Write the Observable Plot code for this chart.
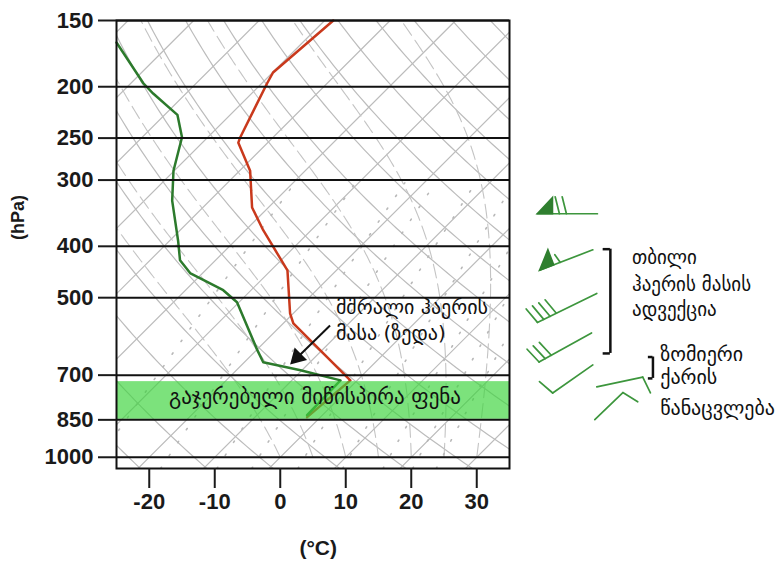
<!DOCTYPE html>
<html><head><meta charset="utf-8">
<script src="https://cdn.jsdelivr.net/npm/d3@7"></script>
<script src="https://cdn.jsdelivr.net/npm/@observablehq/plot@0.6"></script>
<style>
body{margin:0;background:#fff;}
#chart{width:782px;height:561px;}
</style></head><body><div id="chart"></div>
<script>
// ---- data ----
const pressureTicks = [150, 200, 250, 300, 400, 500, 700, 850, 1000];
const tempTicks = [-20, -10, 0, 10, 20, 30];
// temperature profile (red): pressure hPa, temperature °C (axis units)
const tempPressure = [150, 188, 197, 249, 255, 288, 338, 373, 444, 535, 559, 716, 840];
const tempValue    = [8.1, -1.1, -2.0, -6.1, -6.4, -4.6, -4.3, -2.6, 1.1, 1.5, 2.0, 10.7, 4.1];
// dew point profile (green)
const dewPressure = [165, 197, 206, 226, 249, 288, 328, 390, 425, 450, 484, 510, 628, 662, 685, 716, 833];
const dewValue    = [-25.0, -20.9, -19.4, -15.7, -15.0, -16.3, -16.5, -15.6, -15.3, -13.7, -8.7, -6.6, -3.5, -2.6, 3.1, 9.2, 4.1];
// saturated surface layer (hPa)
const bandPressure = [720, 848];
// wind barbs
const windPressure = [348, 407, 492, 584, 671, 738, 851];
const windStation  = [48.5, 47.8, 48.4, 47.6, 47.8, 48.4, 48.1];
const windKnots    = [70, 55, 40, 30, 10, 10, 10];
const windBearing  = [180, 159, 154, 151, 145, -12, -44];

// ---- background thermodynamic grid ----
const K = 35.2;
const skew = (t, p) => t + K * Math.log(1000 / p);
const pSteps = d3.range(0, 81).map(i => 1050 * Math.pow(150 / 1050, i / 80));
const isotherms = [];
for (let T = -130; T <= 40; T += 10) {
  isotherms.push({id: T, x: skew(T, 1050), p: 1050}, {id: T, x: skew(T, 150), p: 150});
}
const dryAd = [];
for (let th = 230; th <= 450; th += 10) {
  for (const p of pSteps) dryAd.push({id: th, p, x: skew(th * Math.pow(p / 1000, 0.2857) - 273.15, p)});
}
const es = tc => 6.112 * Math.exp(17.67 * tc / (tc + 243.5));
const mix = [];
for (const w of [0.4, 1, 2, 3, 5, 8, 12, 16, 20]) {
  for (const p of pSteps.filter(p => p >= 300)) {
    const e = w * p / (622 + w);
    const l = Math.log(e / 6.112);
    mix.push({id: w, p, x: skew(243.5 * l / (17.67 - l), p)});
  }
}
const moist = [];
for (const t0 of [0, 5, 10, 15, 20, 25, 30, 35]) {
  let T = t0 + 273.15, lp = Math.log(1000);
  const n = 200, dl = (Math.log(150) - Math.log(1000)) / n;
  for (let i = 0; i <= n; i++) {
    const p = Math.exp(lp);
    moist.push({id: t0, p, x: skew(T - 273.15, p)});
    const e = es(T - 273.15), rs = 0.622 * e / (p - e);
    const dT = (287 * T + 2.5e6 * rs) / (1005 + 2.5e6 * 2.5e6 * rs * 0.622 / (287 * T * T));
    T += dT * dl; lp += dl;
  }
}

const tempData = tempPressure.map((p, i) => ({p, t: tempValue[i]}));
const dewData = dewPressure.map((p, i) => ({p, t: dewValue[i]}));
const geo = "DejaVu Sans, Noto Sans, sans-serif";

const chart = Plot.plot({
  width: 782, height: 561,
  marginLeft: 116, marginRight: 273, marginTop: 20, marginBottom: 93,
  style: {fontFamily: "Liberation Sans, Arial, sans-serif", background: "#fff", color: "#1a1a1a", overflow: "visible"},
  x: {domain: [-25, 35]},
  y: {type: "log", domain: [150, 1050], reverse: true},
  marks: [
    Plot.line(isotherms, {x: "x", y: "p", z: "id", stroke: "#bcbcbc", strokeWidth: 1.2, clip: true}),
    Plot.line(dryAd, {x: "x", y: "p", z: "id", stroke: "#bcbcbc", strokeWidth: 1.2, clip: true}),
    Plot.line(moist, {x: "x", y: "p", z: "id", stroke: "#c4c4c4", strokeWidth: 1.1, strokeDasharray: "14,6", clip: true}),
    Plot.line(mix, {x: "x", y: "p", z: "id", stroke: "#b8b8b8", strokeWidth: 1.6, strokeDasharray: "1.5,14", clip: true}),
    Plot.line(tempData, {x: "t", y: "p", stroke: "#c9391c", strokeWidth: 2.5}),
    Plot.line(dewData, {x: "t", y: "p", stroke: "#2c7a2c", strokeWidth: 2.5}),
    Plot.rect([bandPressure], {x1: () => -25, x2: () => 35, y1: d => d[0], y2: d => d[1], fill: "#3ed43e", fillOpacity: 0.68}),
    Plot.ruleY(pressureTicks, {stroke: "#111", strokeWidth: 2}),
    Plot.frame({stroke: "#111", strokeWidth: 2}),
    Plot.axisY({ticks: pressureTicks, tickFormat: d => String(d), tickSize: 18, tickPadding: 5, strokeWidth: 2, fontSize: 22, fontWeight: "bold", label: null}),
    Plot.axisX({ticks: tempTicks, tickFormat: d => String(d), tickSize: 20, tickPadding: 5, strokeWidth: 2, fontSize: 22, fontWeight: "bold", label: null}),
    Plot.text(["(hPa)"], {x: () => -40, y: () => 353, rotate: -90, fontSize: 18, fontWeight: "bold", fill: "#1a1a1a"}),
    Plot.text(["(°C)"], {x: () => 5.8, y: () => 1483, fontSize: 21, fontWeight: "bold", fill: "#1a1a1a"}),
    Plot.text(["გაჯერებული მიწისპირა ფენა"], {x: () => 5.3, y: () => 772, fontSize: 21, fontFamily: geo, fill: "#111"}),
    Plot.link([0], {x1: () => 7.6, y1: () => 564, x2: () => 2.8, y2: () => 645, stroke: "#111", strokeWidth: 2}),
    Plot.dot([0], {x: () => 2.6, y: () => 648, symbol: "triangle", r: 6.5, rotate: 225, fill: "#111", stroke: "none"}),
    Plot.text(["მშრალი ჰაერის", "მასა (ზედა)"], {x: () => 8.5, y: (d, i) => [522, 585][i], textAnchor: "start", fontSize: 20, fontFamily: geo, fill: "#111"}),
    Plot.text(["თბილი", "ჰაერის მასის", "ადვექცია"], {x: () => 53.7, y: (d, i) => [421, 472, 528][i], textAnchor: "start", fontSize: 19, fontFamily: geo, fill: "#111"}),
    Plot.text(["ზომიერი", "ქარის", "წანაცვლება"], {x: () => 58.0, y: (d, i) => [640, 708, 810][i], textAnchor: "start", fontSize: 20, fontFamily: geo, fill: "#111"}),
    Plot.ruleX([0], {x: () => 50.4, y1: () => 405, y2: () => 637, stroke: "#111", strokeWidth: 2.5}),
    Plot.ruleY([405, 637], {x1: () => 49.3, x2: () => 50.4, y: d => d, stroke: "#111", strokeWidth: 2.5}),
    Plot.ruleX([0], {x: () => 56.9, y1: () => 647, y2: () => 710, stroke: "#111", strokeWidth: 2.5}),
    Plot.ruleY([647, 710], {x1: () => 56.2, x2: () => 56.9, y: d => d, stroke: "#111", strokeWidth: 2.5})
  ]
});
document.getElementById("chart").appendChild(chart);

// ---- wind barbs drawn with the chart's own scales ----
const sx = chart.scale("x"), sy = chart.scale("y");
const staffLen = [60, 57, 66, 60, 49, 47, 39];
const g = d3.select(chart).append("g").attr("stroke", "#3d963d").attr("fill", "none")
  .attr("stroke-width", 1.7).attr("stroke-linecap", "round");
windPressure.forEach((p, i) => {
  const S = [sx.apply(windStation[i]), sy.apply(p)];
  const a = windBearing[i] * Math.PI / 180;
  const u = [Math.cos(a), Math.sin(a)], n = [-u[1], u[0]];
  const L = staffLen[i];
  const E = [S[0] + L * u[0], S[1] + L * u[1]];
  const P = s => [E[0] - u[0] * s, E[1] - u[1] * s];
  g.append("path").attr("d", `M${S}L${E}`);
  let rem = windKnots[i], s = 0;
  while (rem >= 50) {
    const b = P(s), c = P(s + 15);
    const t = [c[0] + n[0] * 16, c[1] + n[1] * 16];
    g.append("path").attr("d", `M${b}L${c}L${t}Z`).attr("fill", "#2f7f2f").attr("stroke", "#2f7f2f");
    s += 22; rem -= 50;
  }
  const tilt = 0.25;
  while (rem >= 10) {
    const b = P(s);
    const t = [b[0] + (n[0] + u[0] * tilt) * 17, b[1] + (n[1] + u[1] * tilt) * 17];
    g.append("path").attr("d", `M${b}L${t}`);
    s += 7; rem -= 10;
  }
  if (rem >= 5) {
    const b = P(s);
    const t = [b[0] + (n[0] + u[0] * tilt) * 9, b[1] + (n[1] + u[1] * tilt) * 9];
    g.append("path").attr("d", `M${b}L${t}`);
  }
});
</script></body></html>
